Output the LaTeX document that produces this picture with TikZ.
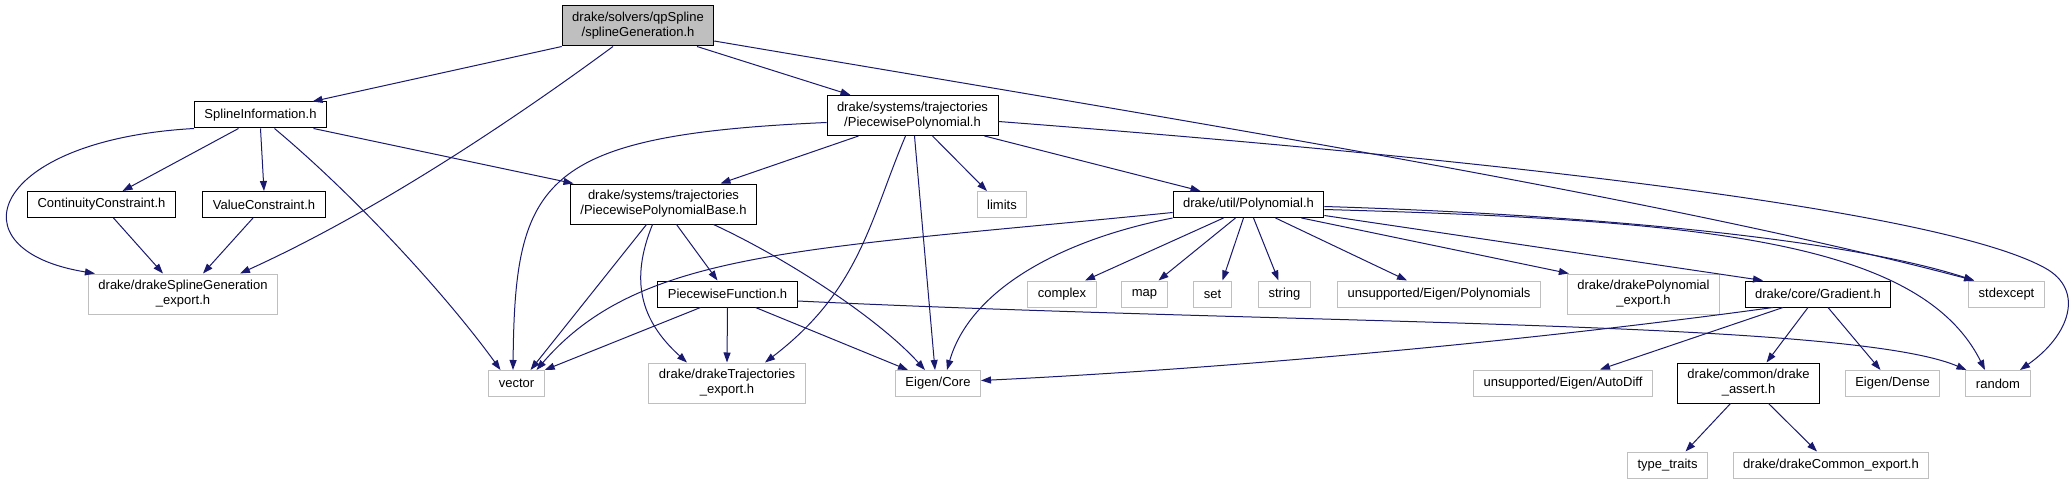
\documentclass[tikz,border=0pt]{standalone}
\usepackage{fontspec}
\setmainfont{Liberation Sans}
\usetikzlibrary{arrows.meta}
\definecolor{cEdge}{HTML}{191970}
\definecolor{cExt}{HTML}{BFBFBF}
\tikzset{
  >={Triangle[length=10pt,width=7pt]},
  hbox/.style={draw=black, line width=1pt, fill=white, align=center,
               inner xsep=10pt, inner ysep=2pt, minimum height=26pt,
               font=\fontsize{13}{15}\selectfont},
  hbox2/.style={hbox, minimum height=40pt},
  extbox/.style={hbox, draw=cExt},
  extbox2/.style={hbox2, draw=cExt},
  rootbox/.style={hbox2, fill=cExt},
  arr/.style={->, draw=cEdge, line width=1pt},
}

\begin{document}
\begin{tikzpicture}[x=1pt, y=-1pt]
    \useasboundingbox (0,0) rectangle (2072,484);
    % headers of the project
    \node[rootbox] (root) at (638,26) {drake/solvers/qpSpline\\/splineGeneration.h};
    \node[hbox] (splineinfo) at (260.5,115) {SplineInformation.h};
    \node[hbox2] (pp) at (912.5,115.5) {drake/systems/trajectories\\/PiecewisePolynomial.h};
    \node[hbox] (contc) at (101.5,204.5) {ContinuityConstraint.h};
    \node[hbox] (valc) at (264,204.5) {ValueConstraint.h};
    \node[hbox2] (ppbase) at (663.5,204) {drake/systems/trajectories\\/PiecewisePolynomialBase.h};
    \node[hbox] (poly) at (1248.5,204.5) {drake/util/Polynomial.h};
    \node[hbox] (pwfun) at (727.5,294) {PiecewiseFunction.h};
    \node[hbox] (gradient) at (1818,294) {drake/core/Gradient.h};
    \node[hbox2] (dassert) at (1748.5,383) {drake/common/drake\\\_assert.h};
    % other includes
    \node[extbox] (limits) at (1002,204.5) {limits};
    \node[extbox2] (splexp) at (183,294) {drake/drakeSplineGeneration\\\_export.h};
    \node[extbox] (complex) at (1062,294) {complex};
    \node[extbox] (map) at (1144.5,294) {map};
    \node[extbox] (set) at (1212.5,294) {set};
    \node[extbox] (string) at (1284.5,294) {string};
    \node[extbox] (eigpoly) at (1439,294) {unsupported/Eigen/Polynomials};
    \node[extbox2] (polyexp) at (1643.5,294) {drake/drakePolynomial\\\_export.h};
    \node[extbox] (stdexcept) at (2006.5,294) {stdexcept};
    \node[extbox] (vector) at (516.5,383.5) {vector};
    \node[extbox2] (trajexp) at (727,383) {drake/drakeTrajectories\\\_export.h};
    \node[extbox] (eigcore) at (938,383.5) {Eigen/Core};
    \node[extbox] (autodiff) at (1563,383) {unsupported/Eigen/AutoDiff};
    \node[extbox] (eigdense) at (1892.5,383.5) {Eigen/Dense};
    \node[extbox] (random) at (1998,383.5) {random};
    \node[extbox] (typetr) at (1667.5,465) {type\_traits};
    \node[extbox] (commexp) at (1831,465) {drake/drakeCommon\_export.h};
    % root
    \draw[arr] (root.south west) -- ([xshift=52pt]splineinfo.north);
    \draw[arr] ([xshift=-25pt]root.south) .. controls (520,115) and (380,210) .. ([xshift=57pt]splexp.north);
    \draw[arr] ([xshift=59pt]root.south) -- ([xshift=-62pt]pp.north);
    \draw[arr] ([yshift=-15pt]root.east) .. controls (1150,115) and (1650,195) .. ([xshift=6pt]stdexcept.north west);
    % SplineInformation.h
    \draw[arr] (splineinfo.south west) .. controls (-10,140) and (-50,250) .. ([xshift=7pt]splexp.north west);
    \draw[arr] ([xshift=-22pt]splineinfo.south) -- ([xshift=21pt]contc.north);
    \draw[arr] (splineinfo.south) -- (valc.north);
    \draw[arr] ([xshift=14pt]splineinfo.south) .. controls (360,200) and (450,300) .. ([xshift=-16pt]vector.north);
    \draw[arr] ([xshift=53pt]splineinfo.south) -- ([xshift=-90pt]ppbase.north);
    \draw[arr] ([xshift=12pt]contc.south) -- ([xshift=-20pt]splexp.north);
    \draw[arr] ([xshift=-11pt]valc.south) -- ([xshift=20pt]splexp.north);
    % PiecewisePolynomial.h
    \draw[arr] ([yshift=-7pt]pp.west) .. controls (540,135) and (515,180) .. ([xshift=-3.5pt]vector.north);
    \draw[arr] ([xshift=-54pt]pp.south) -- ([xshift=57pt]ppbase.north);
    \draw[arr] ([xshift=-7pt]pp.south) .. controls (870,220) and (860,290) .. ([xshift=38pt]trajexp.north);
    \draw[arr] ([xshift=2pt]pp.south) -- ([xshift=-3pt]eigcore.north);
    \draw[arr] ([xshift=20pt]pp.south) -- ([xshift=-15pt]limits.north);
    \draw[arr] ([xshift=72pt]pp.south) -- ([xshift=-48pt]poly.north);
    \draw[arr] ([yshift=-6pt]pp.east) .. controls (1500,160) and (1940,210) .. (2045,268)
      .. controls (2085,290) and (2070,335) .. ([xshift=22pt]random.north);
    % PiecewisePolynomialBase.h
    \draw[arr] ([xshift=-17pt]ppbase.south) -- ([xshift=14pt]vector.north);
    \draw[arr] ([xshift=-11pt]ppbase.south) .. controls (630,280) and (640,320) .. ([xshift=-40pt]trajexp.north);
    \draw[arr] ([xshift=13pt]ppbase.south) -- ([xshift=-10pt]pwfun.north);
    \draw[arr] ([xshift=50pt]ppbase.south) .. controls (790,260) and (880,320) .. ([xshift=-13pt]eigcore.north);
    % PiecewiseFunction.h
    \draw[arr] ([xshift=-27pt]pwfun.south) -- (vector.north east);
    \draw[arr] (pwfun.south) -- (trajexp.north);
    \draw[arr] ([xshift=28pt]pwfun.south) -- ([xshift=-30pt]eigcore.north);
    \draw[arr] ([yshift=-7pt]pwfun.east) .. controls (1300,325) and (1850,320) .. ([xshift=1pt]random.north west);
    % Polynomial.h
    \draw[arr] ([yshift=-8pt]poly.west) .. controls (800,250) and (640,250) .. ([xshift=20pt]vector.north);
    \draw[arr] (poly.south west) .. controls (1060,240) and (970,290) .. ([xshift=9pt]eigcore.north);
    \draw[arr] ([xshift=-25pt]poly.south) -- ([xshift=23pt]complex.north);
    \draw[arr] ([xshift=-13pt]poly.south) -- ([xshift=14pt]map.north);
    \draw[arr] ([xshift=-5pt]poly.south) -- ([xshift=10pt]set.north);
    \draw[arr] ([xshift=5pt]poly.south) -- ([xshift=-6pt]string.north);
    \draw[arr] ([xshift=27pt]poly.south) -- ([xshift=-32pt]eigpoly.north);
    \draw[arr] ([xshift=53pt]poly.south) -- ([xshift=2pt]polyexp.north west);
    \draw[arr] ([yshift=-11pt]poly.east) -- ([xshift=-55pt]gradient.north);
    \draw[arr] ([yshift=-2pt]poly.east) .. controls (1600,215) and (1850,240) .. ([xshift=6pt]stdexcept.north west);
    \draw[arr] ([yshift=-5pt]poly.east) .. controls (1700,220) and (1920,240) .. ([xshift=-13pt]random.north);
    % Gradient.h and drake_assert.h
    \draw[arr] ([xshift=-45pt]gradient.south) .. controls (1500,345) and (1200,370) .. ([yshift=3pt]eigcore.east);
    \draw[arr] ([xshift=-35pt]gradient.south) -- ([xshift=37pt]autodiff.north);
    \draw[arr] ([xshift=-10pt]gradient.south) -- ([xshift=18pt]dassert.north);
    \draw[arr] ([xshift=10pt]gradient.south) -- ([xshift=-12pt]eigdense.north);
    \draw[arr] ([xshift=-18pt]dassert.south) -- ([xshift=18pt]typetr.north);
    \draw[arr] ([xshift=20pt]dassert.south) -- ([xshift=-14pt]commexp.north);
\end{tikzpicture}
\end{document}
